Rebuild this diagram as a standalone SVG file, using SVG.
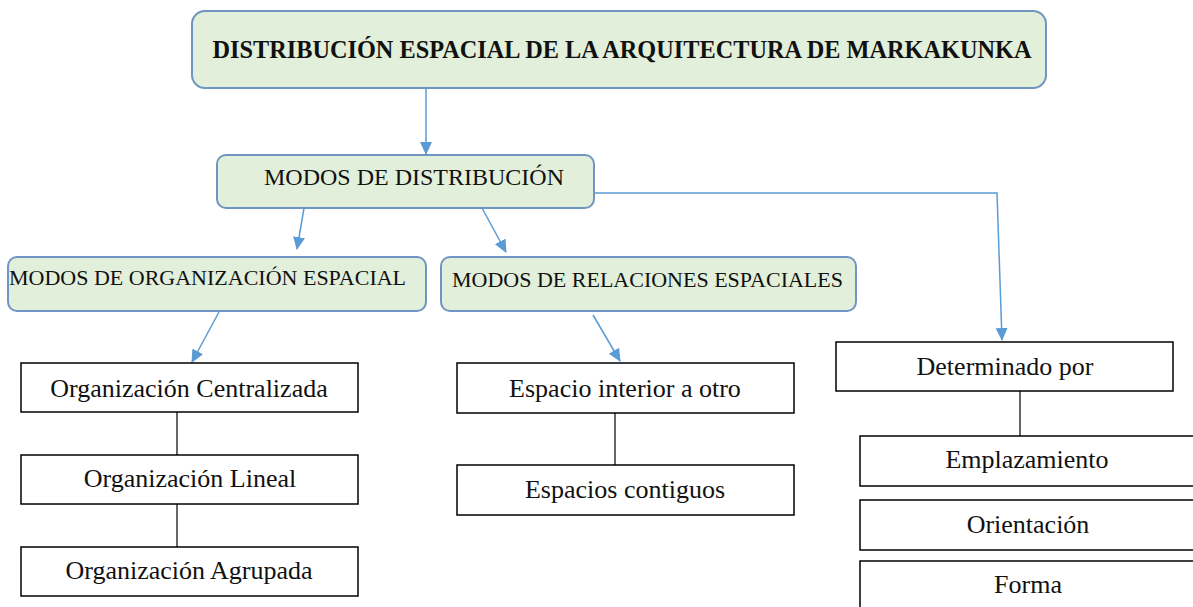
<svg xmlns="http://www.w3.org/2000/svg" width="1193" height="607" viewBox="0 0 1193 607">
<style>
.g{fill:#e2efda;stroke:#6f95c1;stroke-width:2}
.b{fill:#ffffff;stroke:#000000;stroke-width:1.5}
.t{font-family:"Liberation Serif","Times New Roman",serif;fill:#111111}
.c{fill:none;stroke:#5b9bd5;stroke-width:1.5}
.k{fill:none;stroke:#000000;stroke-width:1.2}
</style>
<defs>
<marker id="ah" markerUnits="userSpaceOnUse" markerWidth="14" markerHeight="14" viewBox="0 0 14 14" refX="12" refY="7" orient="auto">
<path d="M0,1 L13,7 L0,13 z" fill="#5b9bd5"/>
</marker>
</defs>
<rect width="1193" height="607" fill="#ffffff"/>
<g id="connectors">
<line class="c" x1="426" y1="88" x2="426" y2="154" marker-end="url(#ah)"/>
<line class="c" x1="304" y1="208" x2="297" y2="249" marker-end="url(#ah)"/>
<line class="c" x1="482" y1="208" x2="506" y2="252" marker-end="url(#ah)"/>
<polyline class="c" points="594,193 997,193 1002,340" marker-end="url(#ah)"/>
<line class="c" x1="219" y1="312" x2="192" y2="362" marker-end="url(#ah)"/>
<line class="c" x1="593" y1="315" x2="620" y2="361" marker-end="url(#ah)"/>
<line class="k" x1="177" y1="412" x2="177" y2="455"/>
<line class="k" x1="177" y1="504" x2="177" y2="547"/>
<line class="k" x1="615" y1="413" x2="615" y2="465"/>
<line class="k" x1="1020" y1="391" x2="1020" y2="436"/>
</g>
<g id="n-title">
<rect class="g" x="192" y="11" width="854" height="77" rx="13"/>
<text class="t" x="622" y="58" font-size="24.3" font-weight="bold" text-anchor="middle">DISTRIBUCIÓN ESPACIAL DE LA ARQUITECTURA DE MARKAKUNKA</text>
</g>
<g id="n-modos">
<rect class="g" x="217" y="155" width="377" height="53" rx="9"/>
<text class="t" x="414" y="185" font-size="24" text-anchor="middle">MODOS DE DISTRIBUCIÓN</text>
</g>
<g id="n-organizacion">
<rect class="g" x="8" y="257" width="418" height="54" rx="9"/>
<text class="t" x="9" y="285" font-size="22">MODOS DE ORGANIZACIÓN ESPACIAL</text>
</g>
<g id="n-relaciones">
<rect class="g" x="441" y="257" width="415" height="54" rx="9"/>
<text class="t" x="452" y="287" font-size="22">MODOS DE RELACIONES ESPACIALES</text>
</g>
<g id="n-centralizada">
<rect class="b" x="21" y="363" width="337" height="49"/>
<text class="t" x="189" y="397" font-size="26" text-anchor="middle">Organización Centralizada</text>
</g>
<g id="n-lineal">
<rect class="b" x="21" y="455" width="337" height="49"/>
<text class="t" x="190" y="487" font-size="26" text-anchor="middle">Organización Lineal</text>
</g>
<g id="n-agrupada">
<rect class="b" x="21" y="547" width="337" height="49"/>
<text class="t" x="189" y="579" font-size="26" text-anchor="middle">Organización Agrupada</text>
</g>
<g id="n-interior">
<rect class="b" x="457" y="363" width="337" height="50"/>
<text class="t" x="625" y="397" font-size="26" text-anchor="middle">Espacio interior a otro</text>
</g>
<g id="n-contiguos">
<rect class="b" x="457" y="465" width="337" height="50"/>
<text class="t" x="625" y="498" font-size="26" text-anchor="middle">Espacios contiguos</text>
</g>
<g id="n-determinado">
<rect class="b" x="836" y="342" width="337" height="49"/>
<text class="t" x="1005" y="375" font-size="26" text-anchor="middle">Determinado por</text>
</g>
<g id="n-emplazamiento">
<rect class="b" x="860" y="436" width="345" height="50"/>
<text class="t" x="1027" y="468" font-size="26" text-anchor="middle">Emplazamiento</text>
</g>
<g id="n-orientacion">
<rect class="b" x="860" y="500" width="345" height="50"/>
<text class="t" x="1028" y="533" font-size="26" text-anchor="middle">Orientación</text>
</g>
<g id="n-forma">
<rect class="b" x="860" y="561" width="345" height="60"/>
<text class="t" x="1028" y="593" font-size="26" text-anchor="middle">Forma</text>
</g>
</svg>
